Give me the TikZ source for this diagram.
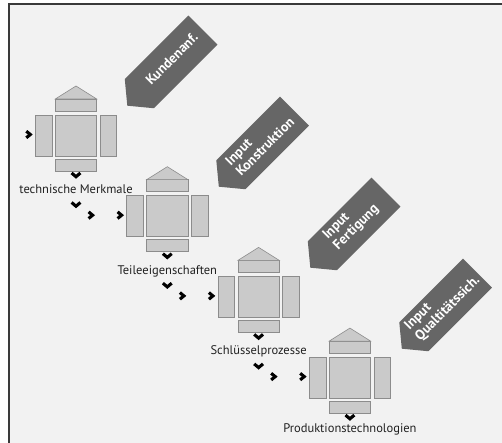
\documentclass[tikz,border=0pt]{standalone}
\usepackage{fontspec}
\setmainfont{PT Sans}
\usetikzlibrary{calc}
\definecolor{paper}{HTML}{F2F2F2}
\definecolor{frameline}{HTML}{3A3A3A}
\definecolor{partfill}{HTML}{CACACA}
\definecolor{partline}{HTML}{8C8C8C}
\definecolor{bannerfill}{HTML}{666666}
\definecolor{labeltext}{HTML}{222222}

\tikzset{
  part/.style={fill=partfill, draw=partline, line width=0.6pt},
  chevron/.style={draw=black, line width=3.1pt, line join=miter, miter limit=10},
  bannerbody/.style={fill=bannerfill},
  bannertext/.style={text=white, font=\bfseries\fontsize{13.8}{15}\selectfont,
    rotate=45, align=left, inner sep=0pt},
  steplabel/.style={text=labeltext, font=\fontsize{12.5}{14}\selectfont,
    anchor=base, inner sep=0pt},
  % one station: square with roof, top/bottom bars and side bars
  module/.pic={
    \draw[part] (-20.7,-20.5) rectangle (20.7,20.5);
    \draw[part] (-20.7,-36.5) rectangle (20.7,-24.5);
    \draw[part] (-20.7,-36.5) -- (0,-49.5) -- (20.7,-36.5) -- cycle;
    \draw[part] (-20.7,23.5) rectangle (20.7,35.5);
    \draw[part] (-40.7,-20.5) rectangle (-24,20.5);
    \draw[part] (24,-20.5) rectangle (40.7,20.5);
  },
  % arrow-shaped tag pointing down-left
  tag/.pic={
    \fill[bannerbody] (17.32,-46.32) -- (46.32,-17.32) -- (-17.32,46.32)
      -- (-43.8,43.8) -- (-46.32,17.32) -- cycle;
  },
  rchev/.pic={\draw[chevron] (-2.7,-3.3) -- (1.3,0) -- (-2.7,3.3);},
  dchev/.pic={\draw[chevron] (-4.4,-2) -- (0,1.7) -- (4.4,-2);}
}

\begin{document}
\begin{tikzpicture}[x=1pt,y=-1pt]
\useasboundingbox (0,0) rectangle (502,443);
\fill[white] (0,0) rectangle (502,443);
\fill[paper] (9,4) rectangle (502,443);
\draw[frameline, line width=1.5pt] (9,443) -- (9,4) -- (502,4);

% station centres
\coordinate (m1) at (76,135.5);
\coordinate (m2) at (167.3,216.2);
\coordinate (m3) at (258.6,296.9);
\coordinate (m4) at (349.9,377.6);

% tag centres
\coordinate (b1) at (171.1,61.9);
\coordinate (b2) at (262.6,142.9);
\coordinate (b3) at (354.1,223.9);
\coordinate (b4) at (445.6,304.9);

% tags
\foreach \b in {b1,b2,b3,b4} \pic at (\b) {tag};
\node[bannertext] (t1) at ($(b1)+(0.6,-3.1)$) {Kundenanf.};
\node[bannertext] (t2) at ($(b2)+(-3,-1.5)$) {Input\\Konstruktion};
\node[bannertext] (t3) at ($(b3)+(-3,-1.5)$) {Input\\Fertigung};
\node[bannertext] (t4) at ($(b4)+(-3,-1.5)$) {Input\\Qualtitätssich.};

% stations
\foreach \m in {m1,m2,m3,m4} {
  \pic at (\m) {module};
  \pic at ($(\m)+(-47,-1)$) {rchev};
  \pic at ($(\m)+(0,39.5)$) {dchev};
}

% chevrons leading from one station to the next
\foreach \m in {m1,m2,m3} \pic at ($(\m)+(0,69)$) {dchev};
\foreach \m in {m2,m3,m4} \pic at ($(\m)+(-76,-1)$) {rchev};

% step labels
\node[steplabel] (l1) at ($(m1)+(0,58.5)$) {technische Merkmale};
\node[steplabel] (l2) at ($(m2)+(0,58.5)$) {Teileeigenschaften};
\node[steplabel] (l3) at ($(m3)+(0,58)$) {Schlüsselprozesse};
\node[steplabel] (l4) at ($(m4)+(0,55)$) {Produktionstechnologien};
\end{tikzpicture}
\end{document}
